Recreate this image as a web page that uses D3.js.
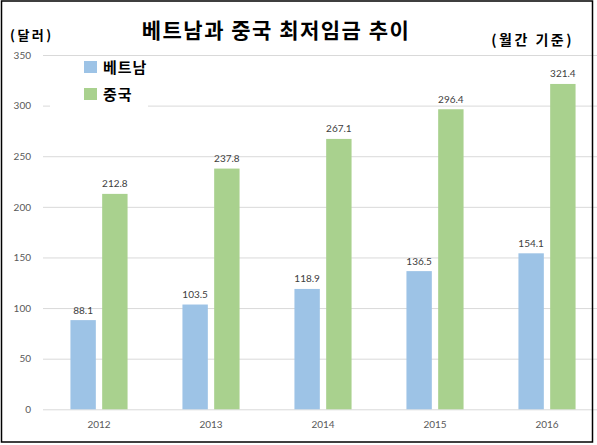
<!DOCTYPE html>
<html>
<head>
<meta charset="utf-8">
<script src="https://cdn.jsdelivr.net/npm/d3@7"></script>
<style>
  body { margin: 0; background: #fff; }
  svg text { font-family: Lato, "Noto Sans", sans-serif; }
  .kr { font-family: "Noto Sans CJK KR", sans-serif; font-weight: 700; fill: #000; }
</style>
</head>
<body>
<div id="vis"></div>
<script>
const FRAME_WIDTH = 597;
const FRAME_HEIGHT = 445;

// data
const years = ["2012", "2013", "2014", "2015", "2016"];
const series = ["베트남", "중국"];
const vietnam = [88.1, 103.5, 118.9, 136.5, 154.1];
const china = [212.8, 237.8, 267.1, 296.4, 321.4];
const yTicks = [0, 50, 100, 150, 200, 250, 300, 350];
const colors = ["#9DC3E6", "#A9D18E"];

const svg = d3.select("#vis")
    .append("svg")
    .attr("width", FRAME_WIDTH)
    .attr("height", FRAME_HEIGHT);

// scales
const Y_SCALE = d3.scaleLinear()
    .domain([0, 350])
    .range([409.3, 55]);

const X_SCALE = d3.scaleBand()
    .domain(years)
    .range([43, 603])
    .paddingInner(0.49)
    .paddingOuter(0.245);

const X_SUB = d3.scaleBand()
    .domain(series)
    .range([0, X_SCALE.bandwidth()])
    .paddingInner(0.2);

// gridlines + y labels
const yAxis = svg.append("g")
    .attr("transform", "translate(43,0)")
    .call(d3.axisLeft(Y_SCALE).tickValues(yTicks).tickSize(-(FRAME_WIDTH - 43)).tickPadding(12));
yAxis.select(".domain").remove();
yAxis.selectAll(".tick line").attr("stroke", "#D9D9D9").attr("stroke-width", 1);
yAxis.selectAll(".tick text").attr("fill", "#595959").attr("font-size", "10px").attr("font-family", "Lato");

// x labels
const xAxis = svg.append("g")
    .attr("transform", "translate(0,409.3)")
    .call(d3.axisBottom(X_SCALE).tickSize(0).tickPadding(12));
xAxis.select(".domain").remove();
xAxis.selectAll(".tick text").attr("fill", "#595959").attr("font-size", "10px").attr("font-family", "Lato");

// bars
const rows = years.map((y, i) => ({year: y, values: [vietnam[i], china[i]]}));

const groups = svg.selectAll(".grp")
    .data(rows)
    .enter()
    .append("g")
    .attr("transform", (d) => "translate(" + X_SCALE(d.year) + ",0)");

groups.selectAll("rect")
    .data((d) => d.values.map((v, j) => ({s: series[j], v: v, c: colors[j]})))
    .enter()
    .append("rect")
    .attr("x", (d) => X_SUB(d.s))
    .attr("y", (d) => Y_SCALE(d.v))
    .attr("width", X_SUB.bandwidth())
    .attr("height", (d) => Y_SCALE(0) - Y_SCALE(d.v))
    .attr("fill", (d) => d.c);

groups.selectAll(".lbl")
    .data((d) => d.values.map((v, j) => ({s: series[j], v: v})))
    .enter()
    .append("text")
    .attr("x", (d) => X_SUB(d.s) + X_SUB.bandwidth() / 2)
    .attr("y", (d) => Y_SCALE(d.v) - 6.5)
    .attr("text-anchor", "middle")
    .attr("font-size", "10px")
    .attr("fill", "#404040")
    .text((d) => d.v.toFixed(1));

// legend (white box over the gridline)
svg.append("rect")
    .attr("x", 50).attr("y", 58)
    .attr("width", 98).attr("height", 52)
    .attr("fill", "#fff");

const legend = svg.selectAll(".leg")
    .data(series)
    .enter()
    .append("g")
    .attr("transform", (d, i) => "translate(84," + (61 + i * 27) + ")");
legend.append("rect")
    .attr("width", 13).attr("height", 12)
    .attr("fill", (d, i) => colors[i]);
legend.append("text")
    .attr("class", "kr")
    .attr("x", 19).attr("y", 12)
    .attr("font-size", "15px")
    .attr("letter-spacing", "1px")
    .text((d) => d);

// titles
svg.append("text")
    .attr("class", "kr")
    .attr("x", 276).attr("y", 38)
    .attr("text-anchor", "middle")
    .attr("font-size", "21px")
    .attr("letter-spacing", "1.5px")
    .text("베트남과 중국 최저임금 추이");

svg.append("text")
    .attr("class", "kr")
    .attr("x", 10).attr("y", 40)
    .attr("font-size", "13px")
    .attr("letter-spacing", "2.5px")
    .text("(달러)");

svg.append("text")
    .attr("class", "kr")
    .attr("x", 574).attr("y", 45)
    .attr("text-anchor", "end")
    .attr("font-size", "14px")
    .attr("letter-spacing", "2.5px")
    .text("(월간 기준)");

// frame
svg.append("rect")
    .attr("x", 1.5).attr("y", 1)
    .attr("width", 591).attr("height", 441)
    .attr("fill", "none")
    .attr("stroke", "#000")
    .attr("stroke-width", 1.5);
</script>
</body>
</html>
